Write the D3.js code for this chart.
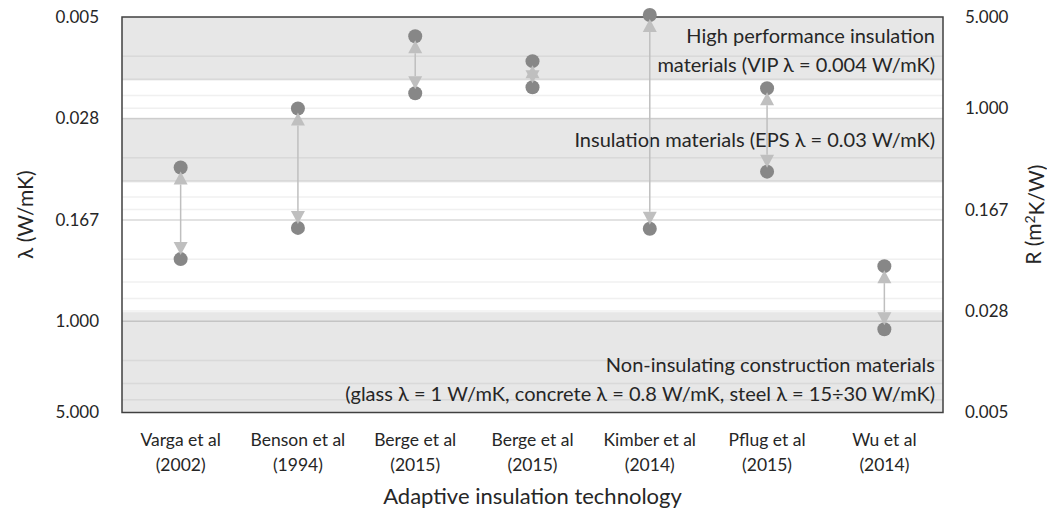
<!DOCTYPE html>
<html>
<head>
<meta charset="utf-8">
<script src="https://cdn.jsdelivr.net/npm/d3@7"></script>
<style>
  body { margin: 0; background: white; }
  text { font-family: Lato, "Open Sans", sans-serif; fill: #262626; }
</style>
</head>
<body>
<div id="chart"></div>
<script>
// categories (two lines each)
var studies = ["Varga et al", "Benson et al", "Berge et al", "Berge et al", "Kimber et al", "Pflug et al", "Wu et al"];
var years = ["(2002)", "(1994)", "(2015)", "(2015)", "(2014)", "(2015)", "(2014)"];

// lambda (W/mK) of the two states of each technology
var lambdaLow = [0.066, 0.0233, 0.0065, 0.0101, 0.00447, 0.0163, 0.377];
var lambdaHigh = [0.333, 0.192, 0.0178, 0.016, 0.195, 0.0711, 1.15];

// left axis ticks (lambda), right axis ticks (R)
var lambdaTicks = [1 / 216, 1 / 36, 1 / 6, 1, 5];
var rTicks = [1 / 216, 1 / 36, 1 / 6, 1, 5];

// shaded material bands (lambda)
var bandFrom = [1 / 216, 1 / 36, 0.85];
var bandTo = [0.0142, 0.086, 5];
var bandLines = [
    ["High performance insulation", "materials (VIP \u03bb = 0.004 W/mK)"],
    ["Insulation materials (EPS \u03bb = 0.03 W/mK)"],
    ["Non-insulating construction materials", "(glass \u03bb = 1 W/mK, concrete \u03bb = 0.8 W/mK, steel \u03bb = 15\u00f730 W/mK)"]
];

var width = 1047, height = 514;
var pLeft = 122, pRight = 943, pTop = 17, pBottom = 412.5;

var svg = d3.select("#chart").append("svg")
    .attr("width", width)
    .attr("height", height);

var x = d3.scaleBand().domain(d3.range(studies.length)).range([pLeft, pRight]);
var yL = d3.scaleLog().base(6).domain([1 / 216, 5]).range([pTop, pBottom]);
var yR = d3.scaleLog().base(6).domain([1 / 216, 5]).range([pBottom, pTop]);

// gridlines: 1..5 x 6^n on the lambda axis
var grid = [];
for (var n = -3; n <= 0; n++) {
    [1, 2, 3, 4, 5].forEach(function(k) {
        var v = k * Math.pow(6, n);
        if (v > 1 / 216 * 1.001 && v < 5 * 0.999) grid.push({ v: v, major: k == 1 });
    });
}
svg.selectAll("line.grid")
    .data(grid)
    .enter().append("line")
    .attr("class", "grid")
    .attr("x1", pLeft).attr("x2", pRight)
    .attr("y1", function(d) { return yL(d.v); })
    .attr("y2", function(d) { return yL(d.v); })
    .attr("stroke", function(d) { return d.major ? "#d9d9d9" : "#f0f0f0"; })
    .attr("stroke-width", 1.5);

// bands
svg.selectAll("rect.band")
    .data(bandFrom)
    .enter().append("rect")
    .attr("class", "band")
    .attr("x", pLeft)
    .attr("width", pRight - pLeft)
    .attr("y", function(d) { return yL(d); })
    .attr("height", function(d, i) { return yL(bandTo[i]) - yL(d); })
    .attr("fill", "#000")
    .attr("fill-opacity", 0.095);

// band captions, right aligned
var captionY = [[36, 65], [140], [365, 394]];
bandLines.forEach(function(lines, i) {
    lines.forEach(function(t, j) {
        svg.append("text")
            .attr("x", pRight - 8)
            .attr("y", captionY[i][j])
            .attr("dy", "0.35em")
            .attr("text-anchor", "end")
            .attr("font-size", "20px")
            .text(t);
    });
});

// plot border
svg.append("rect")
    .attr("x", pLeft).attr("y", pTop)
    .attr("width", pRight - pLeft).attr("height", pBottom - pTop)
    .attr("fill", "none")
    .attr("stroke", "#404040")
    .attr("stroke-width", 1.5);

// axes
var fmt = d3.format(".3f");
var axisL = svg.append("g")
    .attr("transform", "translate(" + (pLeft - 20) + ",0)")
    .call(d3.axisLeft(yL).tickValues(lambdaTicks).tickFormat(fmt).tickSize(0));
var axisR = svg.append("g")
    .attr("transform", "translate(" + (pRight + 19) + ",0)")
    .call(d3.axisRight(yR).tickValues(rTicks).tickFormat(fmt).tickSize(0));
[axisL, axisR].forEach(function(a) {
    a.select(".domain").remove();
    a.selectAll("text")
        .attr("font-size", "17px")
        .attr("font-family", "Lato, sans-serif")
        .attr("fill", "#262626");
});

// points
var mid = function(i) { return x(i) + x.bandwidth() / 2; };
var pts = [];
lambdaLow.forEach(function(v, i) {
    pts.push({ i: i, v: v });
    pts.push({ i: i, v: lambdaHigh[i] });
});
svg.selectAll("circle.pt")
    .data(pts)
    .enter().append("circle")
    .attr("class", "pt")
    .attr("cx", function(d) { return mid(d.i); })
    .attr("cy", function(d) { return yL(d.v); })
    .attr("r", 7)
    .attr("fill", "#878787");

// double arrows between the two states
var gap = 4, head = 13, half = 7;
var arrows = svg.append("g");
lambdaLow.forEach(function(v, i) {
    var cx = mid(i);
    var y1 = yL(v) + gap, y2 = yL(lambdaHigh[i]) - gap;
    arrows.append("line")
        .attr("x1", cx).attr("x2", cx)
        .attr("y1", y1 + head).attr("y2", y2 - head)
        .attr("stroke", "#bfbfbf")
        .attr("stroke-width", 1.5);
    arrows.append("path")
        .attr("d", "M" + cx + "," + y1 + "L" + (cx - half) + "," + (y1 + head) + "L" + (cx + half) + "," + (y1 + head) + "Z")
        .attr("fill", "#bfbfbf");
    arrows.append("path")
        .attr("d", "M" + cx + "," + y2 + "L" + (cx - half) + "," + (y2 - head) + "L" + (cx + half) + "," + (y2 - head) + "Z")
        .attr("fill", "#bfbfbf");
});

// category labels
studies.forEach(function(s, i) {
    var t = svg.append("text")
        .attr("x", mid(i))
        .attr("text-anchor", "middle")
        .attr("font-size", "17.5px");
    t.append("tspan").attr("x", mid(i)).attr("y", 446).text(s);
    t.append("tspan").attr("x", mid(i)).attr("y", 471).text(years[i]);
});

// axis titles
svg.append("text")
    .attr("x", (pLeft + pRight) / 2)
    .attr("y", 504)
    .attr("text-anchor", "middle")
    .attr("font-size", "22px")
    .text("Adaptive insulation technology");

svg.append("text")
    .attr("text-anchor", "middle")
    .attr("transform", "translate(33," + ((pTop + pBottom) / 2) + ")rotate(-90)")
    .attr("font-size", "21px")
    .text("\u03bb (W/mK)");

var rt = svg.append("text")
    .attr("text-anchor", "middle")
    .attr("transform", "translate(1041," + ((pTop + pBottom) / 2) + ")rotate(-90)")
    .attr("font-size", "21px");
rt.append("tspan").text("R (m");
rt.append("tspan").attr("dy", "-0.4em").attr("font-size", "14px").text("2");
rt.append("tspan").attr("dy", "0.4em").text("K/W)");
</script>
</body>
</html>
